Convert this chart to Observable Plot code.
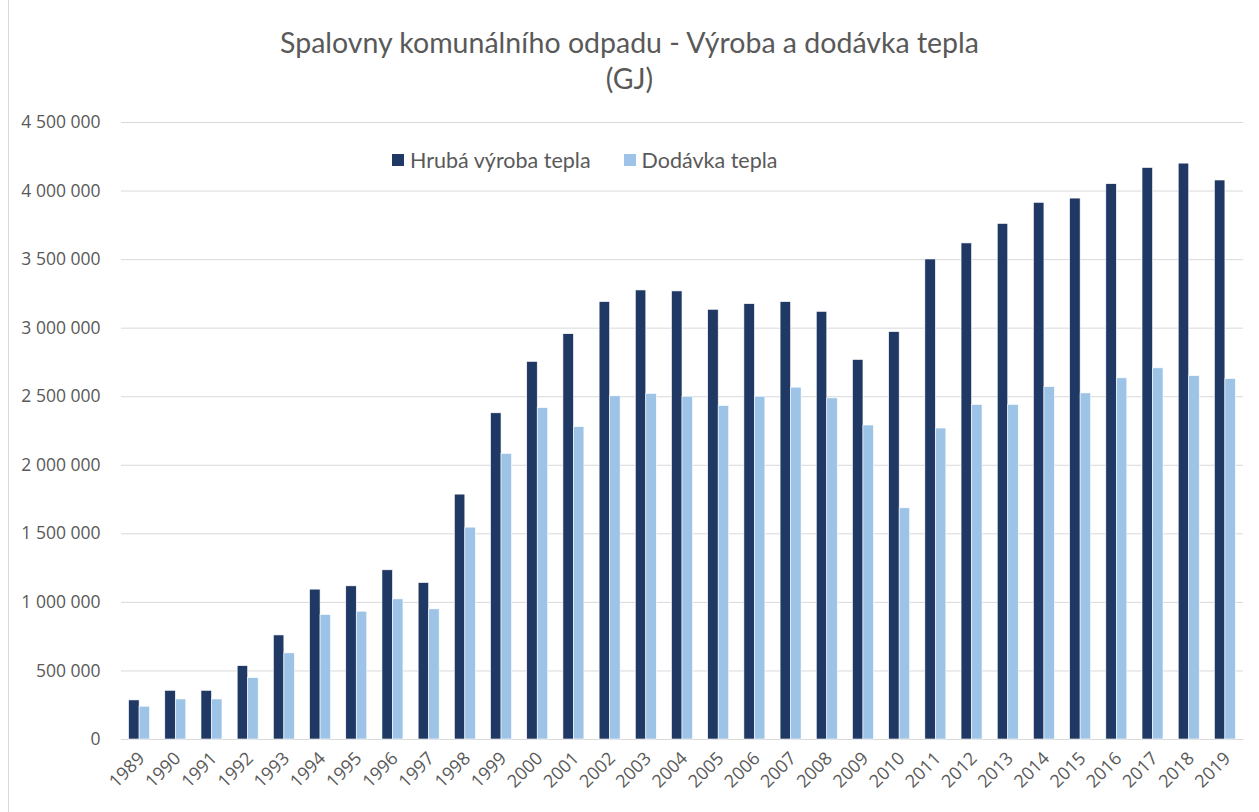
<!DOCTYPE html>
<html>
<head>
<meta charset="utf-8">
<script src="https://cdn.jsdelivr.net/npm/d3@7"></script>
<script src="https://cdn.jsdelivr.net/npm/@observablehq/plot@0.6"></script>
<style>
  html, body { margin: 0; padding: 0; background: #fff; }
  #wrap { position: relative; width: 1259px; height: 812px; overflow: hidden; }
  #frame { position: absolute; left: 8px; top: -2px; width: 1300px; height: 900px; border: 1px solid #d9d9d9; box-sizing: border-box; }
  #title { position: absolute; left: 0; top: 0; width: 1259px; height: 100px; text-align: center; font-family: Lato, "Open Sans", sans-serif; font-size: 28.5px; color: #595959; line-height: 36px; padding-top: 24px; box-sizing: border-box; }
  #chart { position: absolute; left: 0; top: 100px; }
  #legend { position: absolute; left: 392px; top: 147px; font-family: Lato, "Open Sans", sans-serif; font-size: 21.5px; color: #595959; display: flex; align-items: center; white-space: nowrap; }
  .sw { display: inline-block; width: 12px; height: 12px; margin-right: 6px; }
  .item { display: flex; align-items: center; margin-right: 33px; }
</style>
</head>
<body>
<div id="wrap">
  <div id="frame"></div>
  <div id="title">Spalovny komunálního odpadu - Výroba a dodávka tepla<br>(GJ)</div>
  <div id="chart"></div>
  <div id="legend"></div>
</div>
<script>
const years = ["1989","1990","1991","1992","1993","1994","1995","1996","1997","1998","1999","2000","2001","2002","2003","2004","2005","2006","2007","2008","2009","2010","2011","2012","2013","2014","2015","2016","2017","2018","2019"];
const hrubaVyroba = [285000, 355000, 355000, 535000, 759000, 1093000, 1117000, 1234000, 1141000, 1786000, 2379000, 2754000, 2956000, 3190000, 3275000, 3268000, 3134000, 3175000, 3190000, 3119000, 2768000, 2971000, 3501000, 3618000, 3760000, 3914000, 3945000, 4050000, 4168000, 4200000, 4077000];
const dodavka = [239000, 292000, 292000, 448000, 628000, 908000, 932000, 1022000, 949000, 1545000, 2083000, 2417000, 2278000, 2503000, 2520000, 2500000, 2432000, 2500000, 2566000, 2488000, 2290000, 1686000, 2268000, 2440000, 2440000, 2570000, 2524000, 2634000, 2707000, 2650000, 2629000];
const seriesNames = ["Hrubá výroba tepla", "Dodávka tepla"];
const seriesColors = ["#203864", "#9DC3E6"];
const yTicks = [0, 500000, 1000000, 1500000, 2000000, 2500000, 3000000, 3500000, 4000000, 4500000];

const data = years.map((y, i) => ({year: y, hruba: hrubaVyroba[i], dodavka: dodavka[i]}));
const fmt = d3.formatLocale({thousands: " ", grouping: [3], decimal: ",", currency: ["", ""]}).format(",d");

const width = 1259, height = 712;
const marginLeft = 121, marginRight = 16;
const pIn = 0.42, pOut = 0.21;
const step = (width - marginLeft - marginRight) / (years.length - pIn + 2 * pOut);
const half = step * (1 - pIn) / 2;

const chart = Plot.plot({
  width, height,
  marginLeft, marginRight, marginTop: 22, marginBottom: 73,
  style: {fontFamily: "'Open Sans', sans-serif", fontSize: "17px", color: "#595959", background: "transparent", overflow: "visible"},
  x: {type: "band", domain: years, paddingInner: pIn, paddingOuter: pOut, round: false, label: null},
  y: {domain: [0, 4500000], label: null},
  marks: [
    Plot.ruleY(yTicks, {stroke: "#d9d9d9", strokeWidth: 1}),
    Plot.barY(data, {x: "year", y: "hruba", fill: seriesColors[0], insetRight: half, stroke: "#fff", strokeWidth: 0.6}),
    Plot.barY(data, {x: "year", y: "dodavka", fill: seriesColors[1], insetLeft: half, stroke: "#fff", strokeWidth: 0.6}),
    Plot.axisY(yTicks, {tickSize: 0, tickPadding: 21, tickFormat: fmt, fontSize: 17.5, fill: "#595959", label: null}),
    Plot.axisX({tickSize: 0, tickPadding: 6, dy: 10, dx: 2, tickRotate: -45, fontSize: 18, fill: "#595959", label: null})
  ]
});
document.getElementById("chart").appendChild(chart);

const legend = document.getElementById("legend");
seriesNames.forEach((n, i) => {
  const it = document.createElement("span");
  it.className = "item";
  it.innerHTML = `<span class="sw" style="background:${seriesColors[i]}"></span>${n}`;
  legend.appendChild(it);
});
</script>
</body>
</html>
